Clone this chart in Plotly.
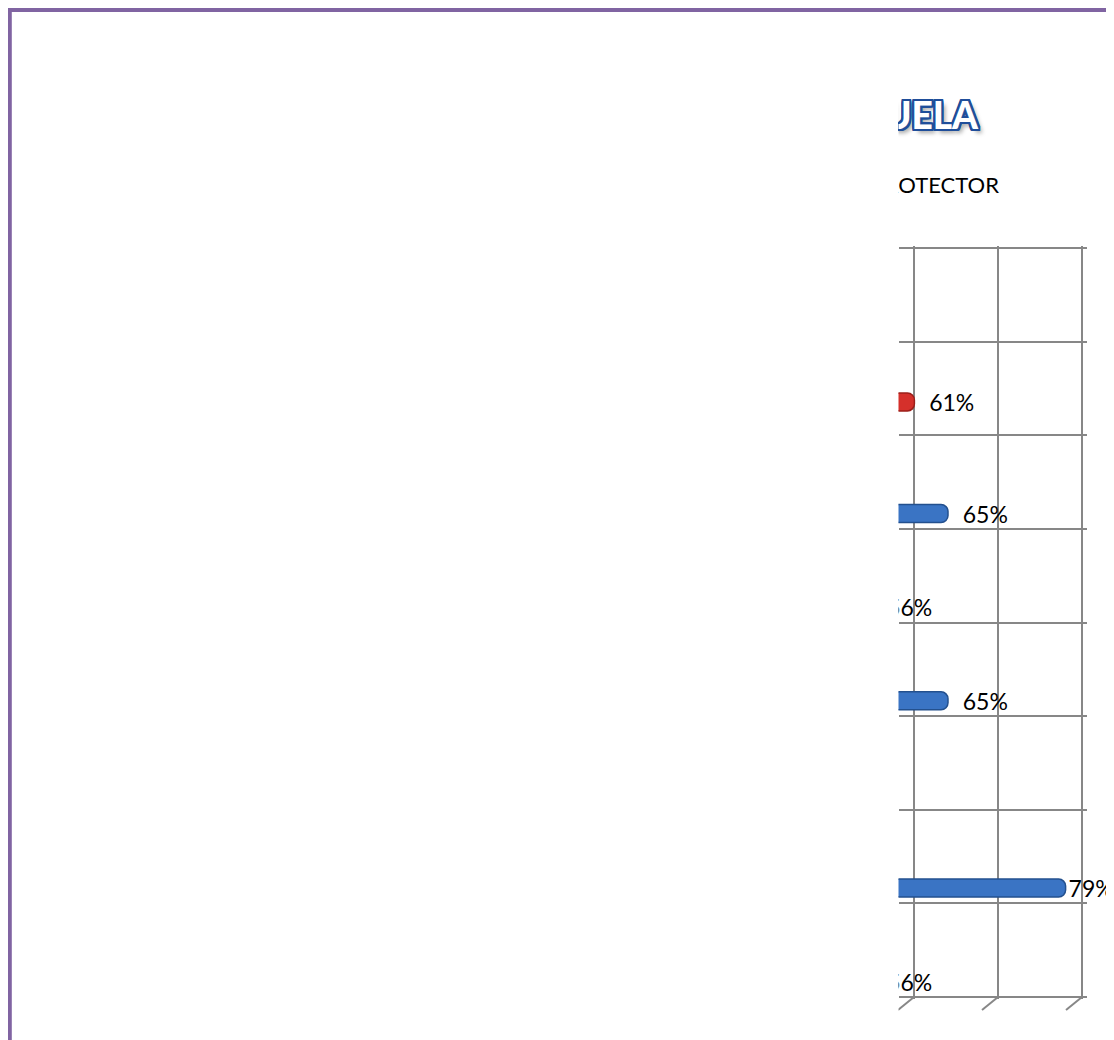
import plotly.graph_objects as go

W, H = 1114, 1040        # browser window
OFF = 8                  # page body margin: the figure starts at (8, 8)
FW, FH = W - OFF, H - OFF
YB = OFF + FH            # page y of the figure bottom

# ---------------- data ----------------
# categories listed bottom -> top (Excel order); their labels are cut off in the picture
categories = ["P1", "P2", "P3", "P4", "P5", "P6", "P7", "P8"]
serie1 = [56, 79, None, 65, 56, 65, None, None]          # blue series (%)
serie2 = [None, None, None, None, None, None, 61, None]  # red series (%)
value_ticks = [60, 70, 80]
title_text = "ESCUELA"
subtitle_text = "PROTECTOR"

# ---------------- layout geometry (page pixels) ----------------
def fx(px):
    return (px - OFF) / FW

def fy(py):
    return 1 - (py - OFF) / FH

CLIP_L = 898.5        # left edge where the picture is cut
GRID_R = 1087         # right end of the grid subplot
PXU = 8.4             # pixels per percentage point
GRID60 = 914          # x pixel of the 60% gridline (back wall)
BAR60 = 906           # x pixel of 60% for the bars (mid depth)
ROW_TOP, ROW_BOT = 248, 997
ROW_H = (ROW_BOT - ROW_TOP) / 8
GROUP_OFF = 69.3      # bar-group centre below the top of each row band

fig = go.Figure()

def templates(vals):
    out = []
    for v in vals:
        if v is not None and v >= 75:
            out.append("%{x}%")
        else:
            out.append("\u00a0\u00a0%{x}%")
    return out

bar_font = dict(family="Lato", size=23, color="black")
fig.add_trace(go.Bar(
    y=categories, x=serie1, orientation="h", name="Serie1",
    marker=dict(color="#3a74c4", line=dict(color="#23508e", width=1.5), cornerradius=7),
    texttemplate=templates(serie1), textposition="outside", constraintext="none",
    cliponaxis=True, textfont=bar_font, xaxis="x2", yaxis="y2",
))
fig.add_trace(go.Bar(
    y=categories, x=serie2, orientation="h", name="Serie2",
    marker=dict(color="#d5302b", line=dict(color="#9c1f1a", width=1.5), cornerradius=7),
    texttemplate=templates(serie2), textposition="outside", constraintext="none",
    cliponaxis=True, textfont=bar_font, xaxis="x2", yaxis="y2",
))

# titles (clipped by subplot x3/y3)
outline = "#1f4e9a"
shadow = ", ".join([f"{dx}px {dy}px 0 {outline}" for dx, dy in
                    [(-2, -2), (2, -2), (-2, 2), (2, 2), (0, 2), (0, -2), (2, 0), (-2, 0),
                     (-1, -2), (1, -2), (-1, 2), (1, 2), (-2, -1), (2, -1), (-2, 1), (2, 1)]])
shadow += ", 4px 4px 4px rgba(0,0,0,0.35)"
fig.add_trace(go.Scatter(
    x=[978], y=[120], text=[title_text], mode="text", textposition="middle left",
    textfont=dict(family="Lato", size=37, color="white", weight=900, shadow=shadow),
    cliponaxis=True, xaxis="x3", yaxis="y3", hoverinfo="skip",
))
fig.add_trace(go.Scatter(
    x=[999], y=[187], text=[subtitle_text], mode="text", textposition="middle left",
    textfont=dict(family="Lato", size=22, color="black"),
    cliponaxis=True, xaxis="x3", yaxis="y3", hoverinfo="skip",
))

grid_col = "#878787"
n = len(categories)
y_lo = (n - 1) - (YB - (ROW_TOP + GROUP_OFF)) / ROW_H
y_hi = (n - 1) + (ROW_TOP + GROUP_OFF - OFF) / ROW_H

fig.update_layout(
    width=FW, height=FH, margin=dict(l=0, r=0, t=0, b=0),
    paper_bgcolor="white", plot_bgcolor="rgba(0,0,0,0)",
    showlegend=False, barmode="group", bargap=1 - 2 * 18 / ROW_H, bargroupgap=0,
    # grid subplot (back wall)
    xaxis=dict(domain=[fx(CLIP_L), fx(GRID_R)],
               range=[60 + (CLIP_L - GRID60) / PXU, 60 + (GRID_R - GRID60) / PXU],
               anchor="y", showgrid=True, gridcolor=grid_col, gridwidth=2,
               tickmode="array", tickvals=value_ticks, showticklabels=False,
               ticks="", zeroline=False, showline=False),
    yaxis=dict(domain=[fy(ROW_BOT + 2), fy(ROW_TOP - 2)],
               range=[-2 / ROW_H, 8 + 2 / ROW_H], anchor="x",
               showgrid=True, gridcolor=grid_col, gridwidth=2, dtick=1, tick0=0,
               showticklabels=False, ticks="", zeroline=False, showline=False),
    # bar subplot
    xaxis2=dict(domain=[fx(CLIP_L), 1],
                range=[60 + (CLIP_L - BAR60) / PXU, 60 + (W - BAR60) / PXU],
                anchor="y2", visible=False),
    yaxis2=dict(domain=[0, 1], type="category", categoryorder="array",
                categoryarray=categories, range=[y_lo, y_hi], anchor="x2", visible=False),
    # title subplot
    xaxis3=dict(domain=[fx(CLIP_L), 1], range=[CLIP_L, W], anchor="y3", visible=False),
    yaxis3=dict(domain=[0, 1], range=[YB, OFF], anchor="x3", visible=False),
)

# 3-D floor ticks under the back-wall gridlines
for v in value_ticks:
    fig.add_shape(type="line", xref="x", yref="paper", xsizemode="pixel", ysizemode="pixel",
                  xanchor=v, yanchor=fy(ROW_BOT), x0=0, x1=-16, y0=0, y1=-13,
                  line=dict(color=grid_col, width=2))

# purple page border
purple = "#8064a2"
fig.add_shape(type="line", xref="paper", yref="paper", x0=fx(8.8), x1=fx(8.8),
              y0=fy(6), y1=fy(H + 10), line=dict(color=purple, width=6), layer="above")
fig.add_shape(type="line", xref="paper", yref="paper", x0=fx(6), x1=fx(W + 10),
              y0=fy(9), y1=fy(9), line=dict(color=purple, width=6), layer="above")

fig.write_html("out.html")
